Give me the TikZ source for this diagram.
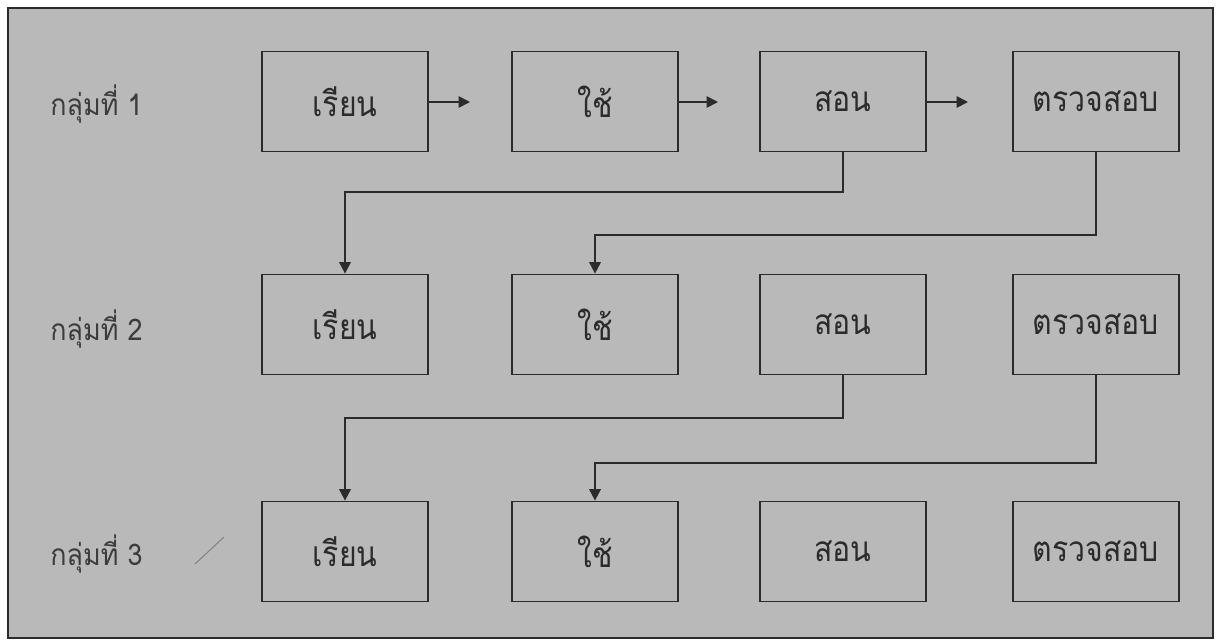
\documentclass[tikz,border=0pt]{standalone}
\usepackage{fontspec}
\newfontfamily\thaifont[Script=Thai,FakeStretch=0.86]{Loma}
\newfontfamily\thailabelfont[Script=Thai,FakeStretch=0.9]{Loma}
\usetikzlibrary{arrows.meta}
\definecolor{bggray}{HTML}{B9B9B9}
\definecolor{ink}{HTML}{2B2B2B}
\definecolor{labelink}{HTML}{3C3C3C}
\begin{document}
\begin{tikzpicture}[x=0.02cm,y=-0.02cm,
  stepbox/.style={draw=ink, line width=1pt, minimum width=3.32cm, minimum height=2cm,
    inner sep=0pt, font=\thaifont\fontsize{20}{24}\selectfont, text=ink},
  grouplabel/.style={anchor=west, inner sep=0pt, font=\thailabelfont\fontsize{17}{20}\selectfont, text=labelink},
  arr/.style={draw=ink, line width=1pt, -{Triangle[length=6.5pt,width=6.5pt]}},
  link/.style={draw=ink, line width=1pt, -{Triangle[length=6.5pt,width=6.5pt]}}]
\useasboundingbox (0,0) rectangle (1217,643);
\fill[white] (0,0) rectangle (1217,643);
\fill[bggray] (8,8) rectangle (1213,638);
\draw[ink, line width=1.4pt] (8,8) rectangle (1213,638);

% group labels
\node[grouplabel] (g1) at (50,104) {กลุ่มที่ 1};
\node[grouplabel] (g2) at (50,329) {กลุ่มที่ 2};
\node[grouplabel] (g3) at (50,554) {กลุ่มที่ 3};

% boxes
\foreach \r/\y in {1/101.5, 2/324.5, 3/551.5}{
  \node[stepbox] (r\r c1) at (345,\y) {เรียน};
  \node[stepbox] (r\r c2) at (595,\y) {ใช้};
  \node[stepbox] (r\r c3) at (843,\y) {สอน};
  \node[stepbox] (r\r c4) at (1096,\y) {ตรวจสอบ};
}

% row 1 arrows (free ends)
\coordinate (e1) at (470,102);
\coordinate (e2) at (718,102);
\coordinate (e3) at (968,102);
\draw[arr] (r1c1.east |- e1) -- (e1);
\draw[arr] (r1c2.east |- e2) -- (e2);
\draw[arr] (r1c3.east |- e3) -- (e3);

% bend levels
\coordinate (h1) at (0,192);
\coordinate (h2) at (0,235);
\coordinate (h3) at (0,418);
\coordinate (h4) at (0,463);

\draw[link] (r1c3.south) -- (r1c3.south |- h1) -- (r2c1.north |- h1) -- (r2c1.north);
\draw[link] (r1c4.south) -- (r1c4.south |- h2) -- (r2c2.north |- h2) -- (r2c2.north);
\draw[link] (r2c3.south) -- (r2c3.south |- h3) -- (r3c1.north |- h3) -- (r3c1.north);
\draw[link] (r2c4.south) -- (r2c4.south |- h4) -- (r3c2.north |- h4) -- (r3c2.north);

% stray pencil mark
\draw[gray!75!black, line width=0.6pt, opacity=0.6] (195,564) -- (224,537);
\end{tikzpicture}
\end{document}
